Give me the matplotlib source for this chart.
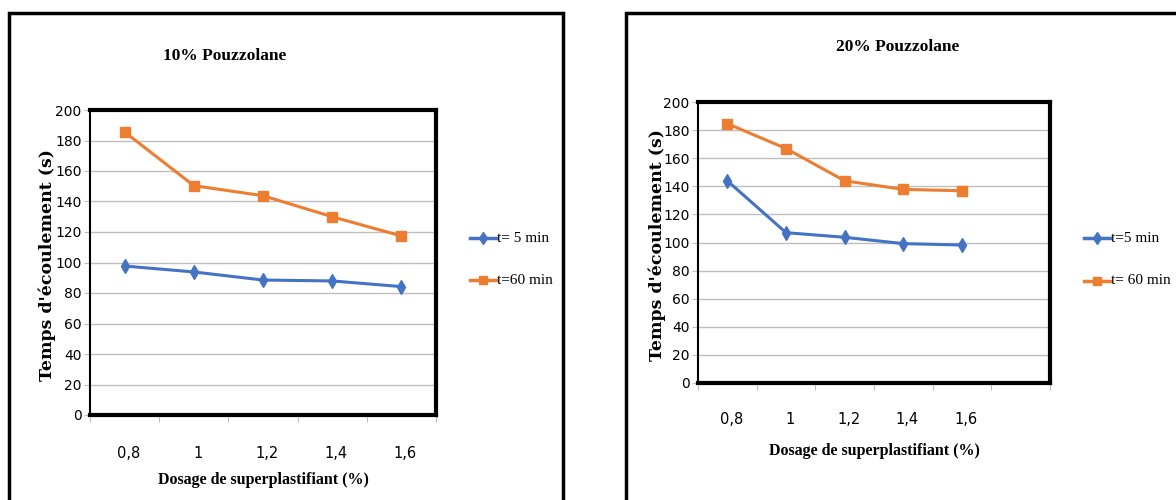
import matplotlib
matplotlib.use("Agg")
import matplotlib.pyplot as plt
from matplotlib.patches import Rectangle
from matplotlib.lines import Line2D
import numpy as np

# ---- data ----
categories = ["0,8", "1", "1,2", "1,4", "1,6"]
left_t5 = [97.7, 93.8, 88.5, 87.9, 84.2]
left_t60 = [185.6, 150.4, 143.8, 130.0, 117.4]
right_t5 = [143.9, 107.0, 103.7, 99.2, 98.2]
right_t60 = [184.6, 166.9, 143.9, 137.8, 136.8]
left_labels = ["t= 5 min", "t=60 min"]
right_labels = ["t=5 min", "t= 60 min"]
titles = ["10% Pouzzolane", "20% Pouzzolane"]
yticks = [0, 20, 40, 60, 80, 100, 120, 140, 160, 180, 200]
xlabel = "Dosage de superplastifiant (%)"
ylabel = "Temps d'écoulement (s)"

BLUE = "#4472C4"
ORANGE = "#ED7D31"
W, H = 1176, 500

fig = plt.figure(figsize=(W / 100, H / 100), dpi=100)
fig.patch.set_facecolor("white")

TICKFONT = ["DejaVu Sans Condensed", "DejaVu Sans"]
SERIF = ["Liberation Serif", "DejaVu Serif"]
WIDE_SERIF = ["DejaVu Serif", "Liberation Serif"]


def px(x0, y0, x1, y1):
    return [x0 / W, 1 - y1 / H, (x1 - x0) / W, (y1 - y0) / H]


def frame(x0, y0, x1, y1):
    r = Rectangle((x0 / W, 1 - y1 / H), (x1 - x0) / W, (y1 - y0) / H,
                  transform=fig.transFigure, fill=False, lw=2.5, ec="black", zorder=0)
    fig.patches.append(r)


def panel(box, ncat, t5, t60, labels, title, title_xy, ylab_xy, xlab_y, leg_x, leg_ys, ticklab_y):
    ax = fig.add_axes(px(*box))
    x = np.arange(len(categories)) + 0.5
    ax.plot(x, t5, color=BLUE, lw=2.2, marker="d", ms=7, zorder=3)
    ax.plot(x, t60, color=ORANGE, lw=2.2, marker="s", ms=7, zorder=3)
    ax.set_xlim(0, ncat)
    ax.set_ylim(0, 200)
    ax.set_yticks(yticks)
    ax.set_yticklabels([str(v) for v in yticks], family=TICKFONT, fontsize=10)
    ax.set_xticks(np.arange(ncat + 1))
    ax.set_xticklabels([])
    ax.tick_params(axis="x", length=5, color="#BFBFBF", width=0.8)
    ax.tick_params(axis="y", length=4, color="#BFBFBF", width=0.8, pad=2)
    ax.grid(axis="y", color="#BFBFBF", lw=1.0)
    ax.set_axisbelow(True)
    for s in ["top", "right", "bottom"]:
        ax.spines[s].set_linewidth(3)
        ax.spines[s].set_color("black")
    ax.spines["left"].set_linewidth(1.5)
    ax.spines["left"].set_color("black")
    # category labels below
    for xi, c in zip(x, categories):
        xf = (box[0] + (box[2] - box[0]) * xi / ncat) / W
        fig.text(xf + 4 / W, 1 - ticklab_y / H, c, ha="center", va="center",
                 family=TICKFONT, fontsize=10.5)
    fig.text(title_xy[0] / W, 1 - title_xy[1] / H, title, ha="center", va="center",
             family=SERIF, fontsize=12.5, fontweight="bold")
    fig.text(ylab_xy[0] / W, 1 - ylab_xy[1] / H, ylabel, ha="center", va="center",
             rotation=90, family=WIDE_SERIF, fontsize=12.5, fontweight="bold")
    fig.text((box[0] + box[2]) / 2 / W, 1 - xlab_y / H, xlabel, ha="center", va="center",
             family=SERIF, fontsize=11.5, fontweight="bold")
    # legend
    for ly, col, mk, lab in zip(leg_ys, [BLUE, ORANGE], ["d", "s"], labels):
        yf = 1 - ly / H
        fig.lines.append(Line2D([leg_x / W, (leg_x + 26) / W], [yf, yf], transform=fig.transFigure,
                                color=col, lw=2.5))
        fig.lines.append(Line2D([(leg_x + 13) / W], [yf], transform=fig.transFigure,
                                color=col, marker=mk, ms=6))
        fig.text((leg_x + 27) / W, yf, lab, ha="left", va="center", family=SERIF, fontsize=11)
    return ax


frame(9, 13, 563, 520)
frame(626, 13, 1200, 520)

panel((90, 110, 436, 415), 5, left_t5, left_t60, left_labels, titles[0], (225, 56), (47, 265), 480,
      470, (238, 280), 454)
panel((698, 102, 1050, 383), 6, right_t5, right_t60, right_labels, titles[1], (898, 47), (657, 245), 451,
      1084, (238, 281), 419)

fig.savefig("out.png", dpi=100)
